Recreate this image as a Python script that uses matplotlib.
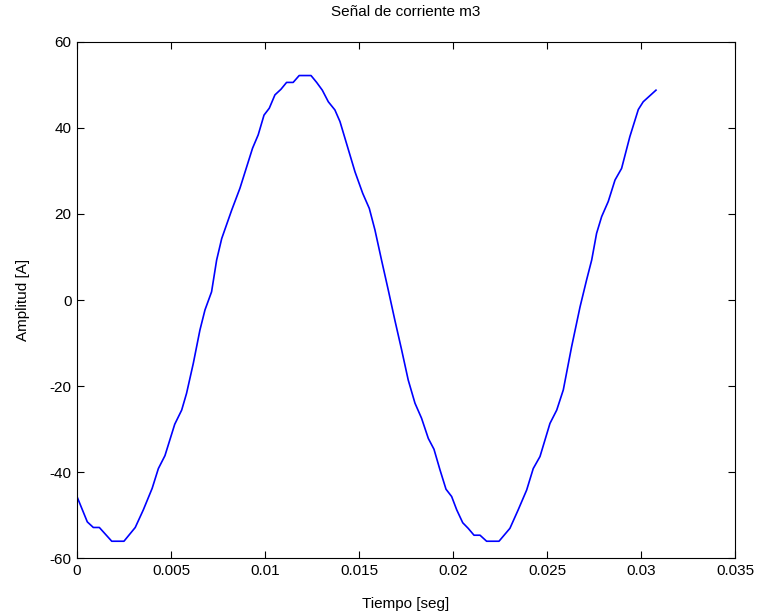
import matplotlib.pyplot as plt
from matplotlib.ticker import FuncFormatter

plt.rcParams['font.family'] = ['Liberation Sans', 'DejaVu Sans']
plt.rcParams['axes.unicode_minus'] = False

# Sampled current signal (time in s, amplitude in A)
tiempo = [0.0, 0.00055, 0.00087, 0.00119, 0.00185, 0.0025, 0.0031, 0.00353,
          0.0040, 0.00433, 0.00468, 0.0052, 0.00557, 0.00583, 0.00619, 0.00654,
          0.00681, 0.00716, 0.00743, 0.0077, 0.00823, 0.00867, 0.00903, 0.00934,
          0.00964, 0.00995, 0.01023, 0.01053, 0.01085, 0.01115, 0.0115, 0.01182,
          0.01245, 0.01275, 0.01305, 0.01337, 0.01372, 0.01399, 0.01479, 0.0152,
          0.01555, 0.01585, 0.0162, 0.01656, 0.01691, 0.01727, 0.01762, 0.01798,
          0.01833, 0.01869, 0.01899, 0.01931, 0.01963, 0.01993, 0.0202, 0.02052,
          0.02081, 0.02112, 0.02144, 0.02179, 0.02245, 0.02303, 0.02347, 0.02392,
          0.02427, 0.02463, 0.02516, 0.02552, 0.02587, 0.02631, 0.02676, 0.02711,
          0.02738, 0.02764, 0.02791, 0.02826, 0.02862, 0.02897, 0.02941, 0.02986,
          0.03012, 0.0308]
corriente = [-45.7, -51.6, -52.9, -52.9, -56.1, -56.1, -52.9, -48.8,
             -43.8, -39.2, -36.2, -28.9, -25.6, -21.7, -14.7, -7.0,
             -2.3, 1.9, 9.3, 14.3, 20.9, 26.0, 31.0, 35.3,
             38.4, 43.0, 44.6, 47.7, 49.0, 50.6, 50.6, 52.2,
             52.2, 50.6, 48.8, 46.1, 44.2, 41.5, 29.8, 24.8,
             21.3, 16.3, 9.3, 2.3, -4.7, -11.6, -18.6, -24.0,
             -27.5, -32.2, -34.7, -39.5, -44.0, -45.7, -48.8, -51.8,
             -53.1, -54.7, -54.7, -56.1, -56.1, -53.1, -48.8, -44.2,
             -39.2, -36.4, -28.7, -25.6, -20.9, -10.9, -1.6, 4.7,
             9.3, 15.5, 19.4, 22.9, 27.9, 30.6, 38.0, 44.3,
             46.1, 48.8]

xticks = [0, 0.005, 0.01, 0.015, 0.02, 0.025, 0.03, 0.035]
yticks = [-60, -40, -20, 0, 20, 40, 60]

fig = plt.figure(figsize=(7.62, 6.14), dpi=100)
ax = fig.add_axes([0.101, 0.0912, 0.8635, 0.8404])

ax.plot(tiempo, corriente, color='#0000ff', linewidth=1.2)

ax.set_xlim(0, 0.035)
ax.set_ylim(-60, 60)
ax.set_xticks(xticks)
ax.set_yticks(yticks)
ax.xaxis.set_major_formatter(FuncFormatter(lambda v, p: '%g' % round(v, 4)))
ax.tick_params(direction='in', top=True, right=True, length=5, width=0.8,
               labelsize=11, pad=4)
for s in ax.spines.values():
    s.set_linewidth(0.8)

ax.set_title('Señal de corriente m3', fontsize=11, pad=19)
ax.set_xlabel('Tiempo [seg]', fontsize=11, labelpad=14)
ax.set_ylabel('Amplitud [A]', fontsize=11, labelpad=14)

fig.savefig('out.png', dpi=100)
